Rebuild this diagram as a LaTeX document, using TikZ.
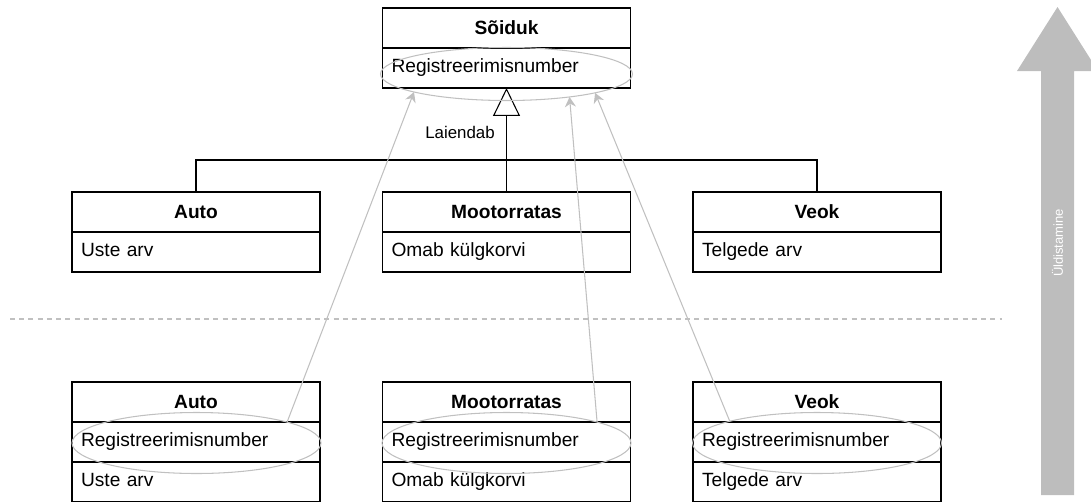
\documentclass[tikz,border=0pt]{standalone}
\usepackage{fontspec}
\setmainfont{Liberation Sans}
\usetikzlibrary{arrows.meta, positioning, shapes.geometric}
\definecolor{hlgray}{HTML}{C0C0C0}
\definecolor{biggray}{HTML}{BDBDBD}

\begin{document}
\begin{tikzpicture}[
    x=0.02cm, y=-0.02cm,
    every node/.style={outer sep=0pt, font=\fontsize{10.9}{13}\selectfont},
    head/.style={draw, line width=0.7pt, minimum width=4.96cm, minimum height=0.8cm, font=\fontsize{10.9}{13}\selectfont\bfseries},
    attr/.style={draw, line width=0.7pt, text width=4.6cm, inner xsep=0.18cm, minimum height=0.8cm, align=left, text height=0.75em, text depth=0.25em},
    ring/.style={draw=hlgray, ellipse, line width=0.6pt, inner sep=0pt},
    arrow/.style={-{Triangle[open, length=0.56cm, width=0.54cm]}, line width=0.6pt},
    lift/.style={draw=hlgray, -{Stealth[length=0.2cm, width=0.22cm]}, line width=0.6pt}
]
\useasboundingbox (0,0) rectangle (1091,501);
\clip (0,0) rectangle (1091,501);

% Nodes
\node[head] (soiduk) at (506.5,28) {Sõiduk};
\node[attr, below=0pt of soiduk] (soidukreg) {Registreerimisnumber};

\node[head] (auto) at (196,212) {Auto};
\node[attr, below=0pt of auto] (autoarv) {Uste arv};
\node[head] (mootor) at (506.5,212) {Mootorratas};
\node[attr, below=0pt of mootor] (mootorkorv) {Omab külgkorvi};
\node[head] (veok) at (817,212) {Veok};
\node[attr, below=0pt of veok] (veokarv) {Telgede arv};

\node[head] (autob) at (196,402) {Auto};
\node[attr, below=0pt of autob] (autobreg) {Registreerimisnumber};
\node[attr, below=0pt of autobreg] (autobarv) {Uste arv};
\node[head] (mootorb) at (506.5,402) {Mootorratas};
\node[attr, below=0pt of mootorb] (mootorbreg) {Registreerimisnumber};
\node[attr, below=0pt of mootorbreg] (mootorbkorv) {Omab külgkorvi};
\node[head] (veokb) at (817,402) {Veok};
\node[attr, below=0pt of veokb] (veokbreg) {Registreerimisnumber};
\node[attr, below=0pt of veokbreg] (veokbarv) {Telgede arv};

% Arrows
\coordinate (join) at (506.5,160);
\draw[arrow] (mootor.north) -- (soidukreg.south);
\draw[line width=0.6pt] (auto.north) |- (join) -| (veok.north);
\node[font=\fontsize{9.6}{11}\selectfont] (laiendab) at (460,132) {Laiendab};

% Level separator
\draw[hlgray, line width=0.6pt, dash pattern=on 0.1cm off 0.085cm] (10,319) -- (1002,319);

% Rings
\node[ring, minimum width=5.04cm, minimum height=1.06cm] (ringtop) at (506.5,74) {};
\node[ring, minimum width=4.98cm, minimum height=1.22cm] (ringauto) at (196.5,443) {};
\node[ring, minimum width=4.98cm, minimum height=1.22cm] (ringmootor) at (506.5,443) {};
\node[ring, minimum width=4.98cm, minimum height=1.22cm] (ringveok) at (817,443) {};

\draw[lift] (ringauto.13.6) -- (ringtop.191.6);
\draw[lift] (ringmootor.13.6) -- (ringtop.340.8);
\draw[lift] (ringveok.166.6) -- (ringtop.348.4);

% Generalization
\fill[biggray] (1041,495) -- (1041,71) -- (1017,71) -- (1057.5,7) -- (1098,71) -- (1074,71) -- (1074,495) -- cycle;
\node[rotate=90, text=white, font=\fontsize{7.4}{9}\selectfont] (uld) at (1057.5,243) {Üldistamine};

\end{tikzpicture}
\end{document}
